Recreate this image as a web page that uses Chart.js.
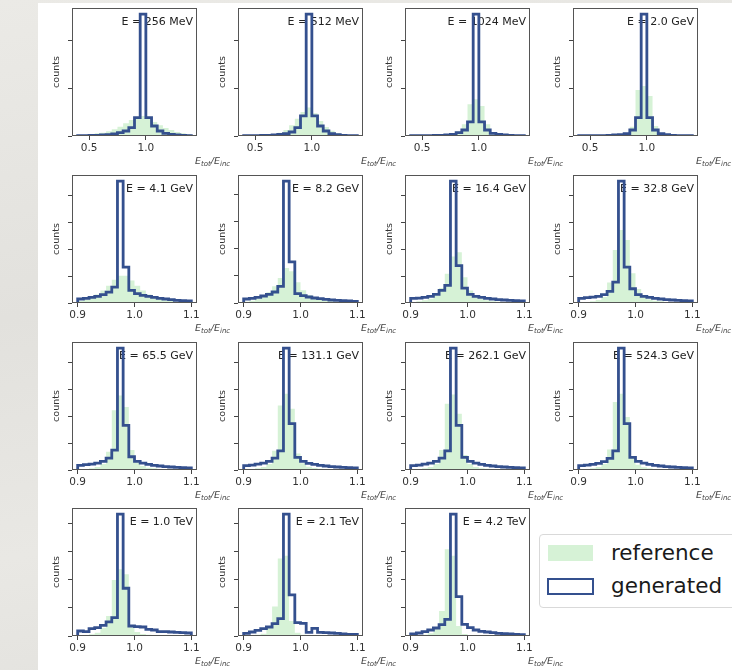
<!DOCTYPE html>
<html lang="en">
<head>
<meta charset="UTF-8">
<title>Energy response per incident energy</title>
<style>
  html, body { margin: 0; padding: 0; }
  body {
    width: 732px; height: 670px; overflow: hidden; position: relative;
    background: linear-gradient(170deg, #ebeae6 0%, #e2e1dd 40%, #e9e8e4 70%, #e0dfdb 100%);
    font-family: "DejaVu Sans", sans-serif;
  }
  .sheet { position: absolute; left: 38px; top: 3px; right: 0; bottom: 0; background: #fff; }
  canvas.panel { position: absolute; }
  .legend {
    position: absolute; left: 539px; top: 534px; width: 210px; height: 72px;
    border: 1px solid #d9d9d9; border-radius: 4px; background: #fff;
  }
  .legend .sw { position: absolute; box-sizing: border-box; }
  .legend .sw.ref { left: 8px; top: 10px; width: 45px; height: 16px; background: #d6f2d6; }
  .legend .sw.gen { left: 7px; top: 43px; width: 47px; height: 17px; border: 2.8px solid #34508e; background: #fff; }
  .legend .txt { position: absolute; left: 71px; font-size: 21.5px; line-height: 24px; color: #1a1a1a; }
</style>
</head>
<body>
<div class="sheet"></div>
<div id="panels"></div>
<div class="legend">
  <span class="sw ref"></span><span class="txt" style="top:6px">reference</span>
  <span class="sw gen"></span><span class="txt" style="top:39px">generated</span>
</div>

<script src="https://cdn.jsdelivr.net/npm/chart.js@4.4.1/dist/chart.umd.min.js"></script>
<script>
// incident energies, one panel each
var energyLabels = ['256 MeV', '512 MeV', '1024 MeV', '2.0 GeV',
                    '4.1 GeV', '8.2 GeV', '16.4 GeV', '32.8 GeV',
                    '65.5 GeV', '131.1 GeV', '262.1 GeV', '524.3 GeV',
                    '1.0 TeV', '2.1 TeV', '4.2 TeV'];

// bin edges of E_tot/E_inc
var wideEdges = [0.40, 0.45, 0.50, 0.55, 0.60, 0.65, 0.70, 0.75, 0.80, 0.85, 0.90,
                 0.95, 1.00, 1.05, 1.10, 1.15, 1.20, 1.25, 1.30, 1.35, 1.40];
var narrowEdges = [0.90, 0.91, 0.92, 0.93, 0.94, 0.95, 0.96, 0.97, 0.98, 0.99, 1.00,
                   1.01, 1.02, 1.03, 1.04, 1.05, 1.06, 1.07, 1.08, 1.09, 1.10];
var wideTicks = [0.5, 1.0];
var narrowTicks = [0.9, 1.0, 1.1];

// counts (arbitrary units)
var reference = [
  [2, 3, 5, 8, 10, 14, 20, 28, 38, 48, 55, 60, 52, 42, 32, 24, 18, 12, 8, 5],
  [1, 1, 2, 3, 4, 6, 10, 18, 32, 52, 72, 85, 68, 45, 27, 16, 9, 5, 3, 2],
  [0, 1, 1, 1, 2, 3, 5, 8, 14, 35, 95, 110, 90, 35, 12, 6, 3, 2, 1, 0],
  [0, 0, 1, 1, 1, 2, 3, 4, 8, 28, 138, 150, 120, 30, 8, 4, 2, 1, 0, 0],
  [6, 10, 16, 26, 38, 52, 70, 82, 82, 68, 52, 38, 26, 18, 12, 8, 6, 4, 3, 2],
  [4, 7, 12, 20, 32, 50, 75, 105, 95, 62, 38, 24, 15, 10, 7, 5, 4, 3, 2, 2],
  [3, 5, 8, 13, 22, 45, 88, 140, 153, 78, 38, 20, 12, 8, 5, 4, 3, 2, 2, 1],
  [2, 3, 5, 9, 18, 62, 160, 220, 190, 90, 42, 20, 11, 7, 5, 3, 2, 2, 1, 1],
  [2, 3, 5, 9, 18, 55, 180, 225, 190, 60, 25, 12, 7, 5, 3, 2, 2, 1, 1, 1],
  [2, 3, 5, 9, 18, 58, 195, 230, 185, 50, 20, 10, 6, 4, 3, 2, 1, 1, 1, 1],
  [2, 3, 5, 9, 18, 60, 200, 228, 170, 45, 18, 9, 5, 4, 3, 2, 1, 1, 1, 1],
  [2, 3, 5, 9, 18, 62, 205, 230, 160, 40, 16, 8, 5, 3, 2, 2, 1, 1, 1, 1],
  [2, 3, 5, 10, 25, 60, 168, 200, 185, 28, 12, 6, 4, 3, 2, 2, 1, 1, 1, 1],
  [1, 2, 4, 7, 28, 88, 232, 240, 45, 10, 4, 2, 2, 1, 1, 1, 0, 0, 0, 0],
  [1, 2, 4, 8, 20, 75, 260, 240, 30, 6, 2, 1, 1, 0, 0, 0, 0, 0, 0, 0]
];
var generated = [
  [1, 1, 2, 2, 3, 4, 6, 10, 15, 25, 55, 365, 55, 30, 15, 8, 5, 3, 2, 1],
  [1, 1, 1, 2, 2, 3, 5, 7, 12, 25, 60, 365, 60, 30, 15, 7, 4, 2, 1, 1],
  [1, 1, 1, 1, 2, 2, 3, 5, 10, 18, 42, 365, 42, 18, 8, 5, 3, 2, 1, 1],
  [1, 1, 1, 1, 1, 2, 3, 4, 7, 18, 55, 365, 55, 18, 7, 4, 2, 1, 1, 1],
  [12, 14, 17, 20, 25, 33, 48, 368, 108, 38, 28, 23, 20, 17, 14, 12, 10, 8, 7, 6],
  [12, 14, 17, 21, 26, 33, 50, 365, 123, 28, 22, 18, 15, 13, 11, 9, 8, 7, 6, 5],
  [14, 15, 17, 20, 26, 38, 53, 368, 113, 45, 26, 20, 17, 14, 12, 10, 9, 8, 7, 6],
  [14, 16, 18, 20, 25, 35, 63, 368, 108, 43, 25, 20, 17, 14, 12, 10, 9, 8, 7, 6],
  [14, 16, 18, 21, 26, 36, 60, 368, 135, 40, 26, 21, 17, 14, 12, 10, 9, 8, 7, 6],
  [13, 15, 18, 21, 26, 36, 58, 368, 140, 38, 26, 20, 17, 14, 12, 10, 9, 8, 7, 6],
  [13, 15, 18, 21, 26, 36, 58, 368, 135, 38, 26, 21, 17, 14, 12, 10, 9, 8, 7, 6],
  [13, 15, 17, 20, 25, 35, 58, 368, 140, 38, 26, 21, 17, 14, 12, 10, 9, 8, 7, 6],
  [15, 13, 22, 25, 32, 42, 55, 365, 143, 30, 28, 27, 20, 18, 13, 13, 12, 11, 10, 9],
  [8, 12, 17, 22, 27, 37, 52, 365, 123, 40, 38, 11, 23, 11, 10, 9, 8, 6, 5, 5],
  [6, 9, 13, 18, 24, 34, 50, 365, 118, 35, 25, 18, 14, 12, 10, 8, 7, 6, 5, 4]
];
// spacing of the (unlabelled) y ticks, per row
var rowTickStep = [143, 81, 81, 84];

// layout of the axes boxes on the page
var colLeft = [72, 238, 405, 573];
var rowTop = [8, 175, 342, 508];
var boxW = 125, boxH = 128;
var padL = 22, padT = 8, padR = 40, padB = 34;

var FONT = '"DejaVu Sans", sans-serif';
var GREEN = '#d6f2d6';
var BLUE = '#34508e';

function histPoints(edges, counts) {
    var pts = [{x: edges[0], y: 0}];
    for (var i = 0; i < counts.length; i++) {
        pts.push({x: edges[i], y: counts[i]});
    }
    pts.push({x: edges[edges.length - 1], y: 0});
    return pts;
}

// frame + energy text + x label drawn around the plot area
var panelDecor = {
    id: 'panelDecor',
    beforeDatasetsDraw: function(chart) {
        var a = chart.chartArea, ctx = chart.ctx;
        ctx.save();
        ctx.font = '11px ' + FONT;
        ctx.fillStyle = '#222';
        ctx.textAlign = 'right';
        ctx.textBaseline = 'middle';
        ctx.fillText('E = ' + chart.options.plugins.panelDecor.energy, a.right - 4, a.top + 14);
        ctx.restore();
    },
    afterDatasetsDraw: function(chart) {
        var a = chart.chartArea, ctx = chart.ctx;
        ctx.save();
        ctx.strokeStyle = '#555';
        ctx.lineWidth = 1;
        ctx.strokeRect(a.left + 0.5, a.top + 0.5, a.right - a.left - 1, a.bottom - a.top - 1);
        ctx.restore();
    },
    afterDraw: function(chart) {
        var a = chart.chartArea, ctx = chart.ctx;
        var x = a.right - 2, y = a.bottom + 28;
        ctx.save();
        ctx.fillStyle = '#444';
        ctx.textBaseline = 'alphabetic';
        var parts = [['E', 9.5, 0], ['tot', 7, 2], ['/E', 9.5, 0], ['inc', 7, 2]];
        parts.forEach(function(p) {
            ctx.font = 'italic ' + p[1] + 'px ' + FONT;
            ctx.fillText(p[0], x, y + p[2]);
            x += ctx.measureText(p[0]).width;
        });
        ctx.restore();
    }
};

var holder = document.getElementById('panels');

energyLabels.forEach(function(label, i) {
    var row = Math.floor(i / 4), col = i % 4;
    var wide = row === 0;
    var edges = wide ? wideEdges : narrowEdges;
    var xticks = wide ? wideTicks : narrowTicks;
    var span = edges[edges.length - 1] - edges[0];
    var xmin = edges[0] - 0.05 * span, xmax = edges[edges.length - 1] + 0.05 * span;
    var ymax = 1.05 * Math.max(Math.max.apply(null, reference[i]), Math.max.apply(null, generated[i]));
    var step = rowTickStep[row];
    var yticks = [];
    for (var v = 0; v <= ymax; v += step) yticks.push(v);

    var cv = document.createElement('canvas');
    cv.className = 'panel';
    cv.width = padL + boxW + padR;
    cv.height = padT + boxH + padB;
    cv.style.left = (colLeft[col] - padL) + 'px';
    cv.style.top = (rowTop[row] - padT) + 'px';
    holder.appendChild(cv);

    var tickGrid = { drawOnChartArea: false, drawTicks: true, tickLength: 4, color: '#444', lineWidth: 1 };

    new Chart(cv.getContext('2d'), {
        type: 'line',
        data: {
            datasets: [
                {
                    label: 'generated',
                    data: histPoints(edges, generated[i]),
                    stepped: 'before',
                    borderColor: BLUE,
                    borderWidth: 2.8,
                    borderJoinStyle: 'miter',
                    fill: false,
                    pointRadius: 0,
                    pointHitRadius: 0,
                    clip: 0,
                    order: 1
                },
                {
                    label: 'reference',
                    data: histPoints(edges, reference[i]),
                    stepped: 'before',
                    borderColor: 'rgba(0,0,0,0)',
                    borderWidth: 0,
                    backgroundColor: GREEN,
                    fill: 'origin',
                    pointRadius: 0,
                    pointHitRadius: 0,
                    clip: 0,
                    order: 2
                }
            ]
        },
        options: {
            responsive: false,
            animation: false,
            devicePixelRatio: 1,
            events: [],
            layout: { padding: { left: 0, top: padT, right: padR, bottom: 0 } },
            plugins: {
                legend: { display: false },
                tooltip: { enabled: false },
                panelDecor: { energy: label }
            },
            scales: {
                x: {
                    type: 'linear',
                    bounds: 'data',
                    min: xmin,
                    max: xmax,
                    afterBuildTicks: function(s) { s.ticks = xticks.map(function(t) { return {value: t}; }); },
                    afterFit: function(s) { s.height = padB; },
                    grid: tickGrid,
                    border: { display: false },
                    ticks: {
                        autoSkip: false, maxRotation: 0, padding: 2, color: '#333',
                        font: { family: FONT, size: 10.5 },
                        callback: function(val) { return Number(val).toFixed(1); }
                    }
                },
                y: {
                    type: 'linear',
                    bounds: 'data',
                    min: 0,
                    max: ymax,
                    afterBuildTicks: function(s) { s.ticks = yticks.map(function(t) { return {value: t}; }); },
                    afterFit: function(s) { s.width = padL; },
                    grid: tickGrid,
                    border: { display: false },
                    ticks: { padding: 0, callback: function() { return ''; } },
                    title: {
                        display: true, text: 'counts', color: '#333',
                        font: { family: FONT, size: 9.5 },
                        padding: { top: 1, bottom: 0 }
                    }
                }
            }
        },
        plugins: [panelDecor]
    });
});
</script>
</body>
</html>
